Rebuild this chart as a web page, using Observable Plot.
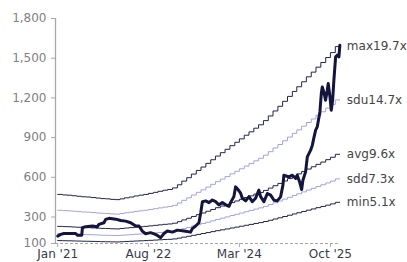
<!DOCTYPE html>
<html><head><meta charset="utf-8">
<script src="https://cdn.jsdelivr.net/npm/d3@7"></script>
<script src="https://cdn.jsdelivr.net/npm/@observablehq/plot@0.6"></script>
<style>body{margin:0;background:#fff}#chart svg{display:block}</style>
</head><body><div id="chart"></div>
<script>
const priceDates = ["2021-01-01","2021-01-20","2021-02-10","2021-04-25","2021-05-06","2021-06-03","2021-06-07","2021-06-28","2021-08-10","2021-09-10","2021-09-20","2021-10-22","2021-11-02","2021-11-23","2022-01-05","2022-02-05","2022-03-09","2022-04-10","2022-05-12","2022-06-02","2022-06-23","2022-07-14","2022-08-15","2022-09-10","2022-09-27","2022-10-18","2022-11-08","2022-11-29","2022-12-31","2023-02-01","2023-03-15","2023-04-26","2023-05-07","2023-05-28","2023-06-18","2023-06-29","2023-07-10","2023-07-31","2023-08-21","2023-09-11","2023-10-02","2023-10-23","2023-11-14","2023-12-05","2023-12-26","2024-01-05","2024-01-26","2024-02-06","2024-02-21","2024-03-09","2024-03-20","2024-04-10","2024-05-01","2024-05-22","2024-06-12","2024-07-03","2024-07-14","2024-08-04","2024-08-26","2024-09-16","2024-10-07","2024-10-28","2024-11-18","2024-12-03","2024-12-09","2025-01-10","2025-02-01","2025-02-22","2025-03-04","2025-03-19","2025-04-01","2025-04-09","2025-04-26","2025-05-07","2025-05-28","2025-06-08","2025-06-18","2025-06-29","2025-07-09","2025-07-26","2025-08-04","2025-08-10","2025-08-20","2025-08-31","2025-09-11","2025-09-17","2025-09-28","2025-10-06","2025-10-15","2025-10-23","2025-11-03","2025-11-14","2025-11-24","2025-11-30"];
const priceValues = [156,169,176,176,163,163,219,227,232,227,244,257,282,290,284,274,269,257,232,232,194,174,182,171,161,144,176,194,186,201,194,186,212,232,257,330,416,422,409,429,416,392,409,392,381,409,454,528,508,480,442,422,454,416,442,503,454,416,478,465,427,422,452,541,616,603,616,591,616,565,508,578,641,754,805,843,900,956,981,1094,1233,1283,1245,1183,1258,1309,1208,1107,1183,1334,1510,1523,1510,1598];

const epsStart = "2021-01-01";
const epsEnd = "2025-11-30";
const epsValues = [23.9,23.7,23.6,23.4,23.2,23.0,22.9,22.7,22.5,22.3,22.2,22.0,
  21.9,22.2,22.6,22.9,23.3,23.6,23.9,24.3,24.7,25.1,25.5,25.8,
  26.4,27.6,29.0,30.3,31.7,33.1,34.4,35.8,37.2,38.6,39.9,41.2,
  42.6,43.9,45.2,46.6,47.9,49.3,50.6,52.2,54.0,55.9,57.7,59.6,
  61.5,63.4,65.2,67.1,69.0,70.8,72.7,74.5,76.4,78.3,80.6];

const bandNames = ["max","sdu","avg","sdd","min"];
const bandMultiples = [19.7,14.7,9.6,7.3,5.1];
const bandColors = ["#23234f","#a3a3e3","#23234f","#a3a3e3","#23234f"];

const yTicks = [100,300,600,900,1200,1500,1800];
const yDomain = [100,1800];
const xTicks = ["2021-01-01","2022-08-01","2024-03-01","2025-10-01"];
const xDomain = ["2020-12-18","2025-12-04"];

const parse = d3.utcParse("%Y-%m-%d");
const price = priceDates.map((d,i) => ({date: parse(d), value: priceValues[i]}));
const months = d3.utcMonth.range(parse(epsStart), d3.utcMonth.offset(parse(epsStart), epsValues.length));
const epsDates = [...months, parse(epsEnd)];
const epsAll = [...epsValues, epsValues[epsValues.length-1]];
const bands = [];
bandNames.forEach((b,j) => epsDates.forEach((d,i) => bands.push({date:d, value: epsAll[i]*bandMultiples[j], band:b})));
const lastPts = bandNames.map((b,j) => ({date: epsDates[epsDates.length-1], value: epsAll[epsAll.length-1]*bandMultiples[j], label: b + bandMultiples[j] + "x"}));

const chart = Plot.plot({
  width: 407, height: 262,
  marginLeft: 55, marginRight: 67, marginTop: 18, marginBottom: 19,
  style: {fontFamily: "DejaVu Sans, Verdana, sans-serif", fontSize: "12px", background: "#fff"},
  x: {type: "utc", domain: xDomain.map(parse)},
  y: {domain: yDomain},
  color: {domain: bandNames, range: bandColors},
  marks: [
    Plot.ruleY([yDomain[0]], {stroke: "#a8a8a8", strokeDasharray: "3,2", strokeWidth: 1}),
    Plot.axisY({ticks: yTicks, tickFormat: d3.format(","), tickSize: 4, stroke: "#a8a8a8", fill: "#808080", label: null, fontSize: 12}),
    Plot.axisX({ticks: xTicks.map(parse), tickFormat: d3.utcFormat("%b '%y"), tickSize: 4, tickPadding: 2, stroke: "#a8a8a8", fill: "#3a3a4a", label: null, fontSize: 12}),
    Plot.ruleX([parse(xDomain[0])], {stroke: "#a8a8a8", strokeWidth: 1.3}),
    Plot.line(bands, {x: "date", y: "value", z: "band", stroke: "band", curve: "step-after", strokeWidth: 1}),
    Plot.line(price, {x: "date", y: "value", stroke: "#14143c", strokeWidth: 3, strokeLinejoin: "round"}),
    Plot.text(lastPts, {x: "date", y: "value", text: "label", textAnchor: "start", dx: 7, fill: "#444", fontSize: 12})
  ]
});
document.getElementById("chart").append(chart);
</script>
</body></html>
